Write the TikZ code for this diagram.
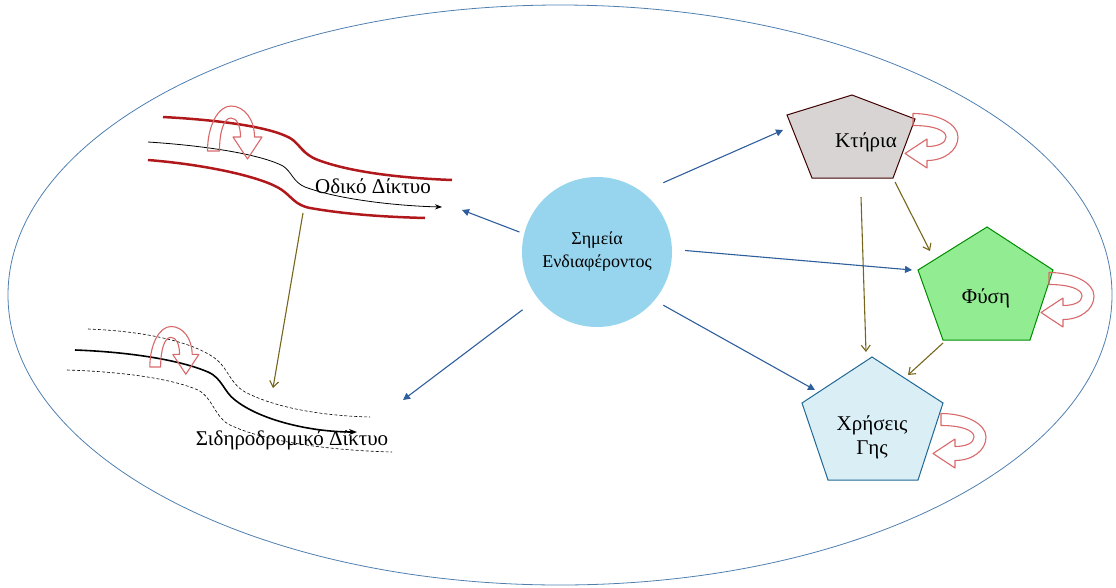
\documentclass[tikz,border=0pt]{standalone}
\usepackage{fontspec}
\setmainfont{Liberation Serif}
\usetikzlibrary{arrows.meta}

\definecolor{ringblue}{HTML}{4F7FAF}
\definecolor{linkblue}{HTML}{2E5E9C}
\definecolor{flowolive}{HTML}{76661C}
\definecolor{loopred}{HTML}{D9686A}
\definecolor{roadred}{HTML}{B0181C}
\definecolor{poiblue}{HTML}{97D5EF}
\definecolor{buildgray}{HTML}{D8D4D4}
\definecolor{naturegreen}{HTML}{92EC92}
\definecolor{landblue}{HTML}{DAEEF6}

% hollow arrow that leaves a shape and curls back into it
\newcommand{\selfloop}[1]{%
  \draw[loopband,#1] (0,-23.5) .. controls (25,-23.5) and (45,-13) .. (45,0)
    .. controls (45,13) and (32,23.5) .. (14,23.5) -- (14,31) -- (-8,16.5)
    -- (14,2) -- (14,9.5) .. controls (25,9.5) and (33,6) .. (33,0)
    .. controls (33,-7) and (20,-11.5) .. (0,-11.5) -- cycle;}

\begin{document}
\begin{tikzpicture}[x=1pt,y=-1pt,
  link/.style={draw=linkblue, line width=1.1pt, -{Triangle[length=7pt,width=7pt]}},
  flow/.style={draw=flowolive, line width=1.1pt, -{Straight Barb[length=6pt,width=9pt]}},
  loopband/.style={draw=loopred, line width=1.1pt, line join=round},
  label/.style={font=\fontsize{21}{24}\selectfont, align=center}]
\useasboundingbox (0,0) rectangle (1116,587);
\draw[ringblue, line width=0.8pt] (560,295) ellipse [x radius=552pt, y radius=290pt];

% road network
\draw[roadred, line width=2.5pt] (163,117) .. controls (220,120) and (270,127) .. (290,138)
  .. controls (300,144) and (302,154) .. (318,160) .. controls (350,172) and (400,178) .. (452,180);
\draw[roadred, line width=2.5pt] (148,160) .. controls (210,165) and (265,178) .. (282,190)
  .. controls (292,197) and (295,205) .. (310,208) .. controls (350,215) and (390,217) .. (425,218);
\draw[line width=0.8pt, -{Stealth[length=7pt]}] (148,142) .. controls (210,146) and (262,155) .. (283,166)
  .. controls (292,172) and (293,182) .. (305,187) .. controls (340,200) and (400,206) .. (442,207);
\node[label] (road) at (373,186) {Οδικό Δίκτυο};
\selfloop{shift={(231,151)},rotate=90}

% railway network
\draw[dashed, dash pattern=on 3pt off 2pt, line width=0.6pt] (88,329) .. controls (140,331) and (185,340) .. (210,355)
  .. controls (228,365) and (228,382) .. (245,392) .. controls (280,410) and (330,416) .. (370,417);
\draw[dashed, dash pattern=on 3pt off 2pt, line width=0.6pt] (67,370) .. controls (130,372) and (175,380) .. (198,390)
  .. controls (212,397) and (214,415) .. (228,424) .. controls (260,440) and (320,450) .. (392,452);
\draw[line width=1.6pt, -{Stealth[length=8pt]}] (75,350) .. controls (130,352) and (180,360) .. (208,372)
  .. controls (222,378) and (224,392) .. (235,400) .. controls (260,420) and (310,432) .. (357,432);
\node[label] (rail) at (292,440) {Σιδηροδρομικό Δίκτυο};
\selfloop{shift={(171,367)},rotate=90,scale=0.9}

% points of interest
\node[circle, fill=poiblue, minimum size=150, inner sep=0pt, align=center, font=\fontsize{18}{23}\selectfont] (poi) at (597,252) {Σημεία\\Ενδιαφέροντος};

% buildings, nature, land use
\draw[draw=black!75!red, fill=buildgray, line width=1pt] (852,95) -- (915,119) -- (893,178) -- (812,178) -- (787,115) -- cycle;
\node[label] (ktiria) at (866,142) {Κτήρια};
\draw[draw=green!55!black, fill=naturegreen, line width=1pt] (987,227) -- (1053,270) -- (1030,340) -- (943,340) -- (918,270) -- cycle;
\node[label] (fysi) at (986,298) {Φύση};
\draw[draw=linkblue!70!teal, fill=landblue, line width=1pt] (872,357) -- (943,403) -- (918,480) -- (828,480) -- (802,403) -- cycle;
\node[label] (xriseis) at (872,437) {Χρήσεις\\Γης};
\selfloop{shift={(913,137)}}
\selfloop{shift={(1049,296)}}
\selfloop{shift={(941,437)}}

\coordinate (road-in) at (462,210);
\coordinate (road-out) at (303,213);
\coordinate (rail-in) at (403,400);
\coordinate (rail-top) at (273,388);
\coordinate (ktiria-in) at (783,130);
\coordinate (ktiria-down) at (861,197);
\coordinate (ktiria-right) at (895,182);
\coordinate (fysi-in) at (912,270);
\coordinate (fysi-top) at (930,251);
\coordinate (fysi-out) at (943,343);
\coordinate (xriseis-in) at (815,390);
\coordinate (xriseis-top) at (866,352);
\coordinate (xriseis-right) at (908,375);

\draw[link, shorten <=23pt] (poi.53) -- (ktiria-in);
\draw[link, shorten <=13pt] (poi.2) -- (fysi-in);
\draw[link, shorten <=10pt] (poi.-40) -- (xriseis-in);
\draw[link, shorten <=5pt] (poi.166) -- (road-in);
\draw[link, shorten <=19pt] (poi.218) -- (rail-in);

\draw[flow] (road-out) -- (rail-top);
\draw[flow] (ktiria-down) -- (xriseis-top);
\draw[flow] (ktiria-right) -- (fysi-top);
\draw[flow] (fysi-out) -- (xriseis-right);
\end{tikzpicture}
\end{document}
